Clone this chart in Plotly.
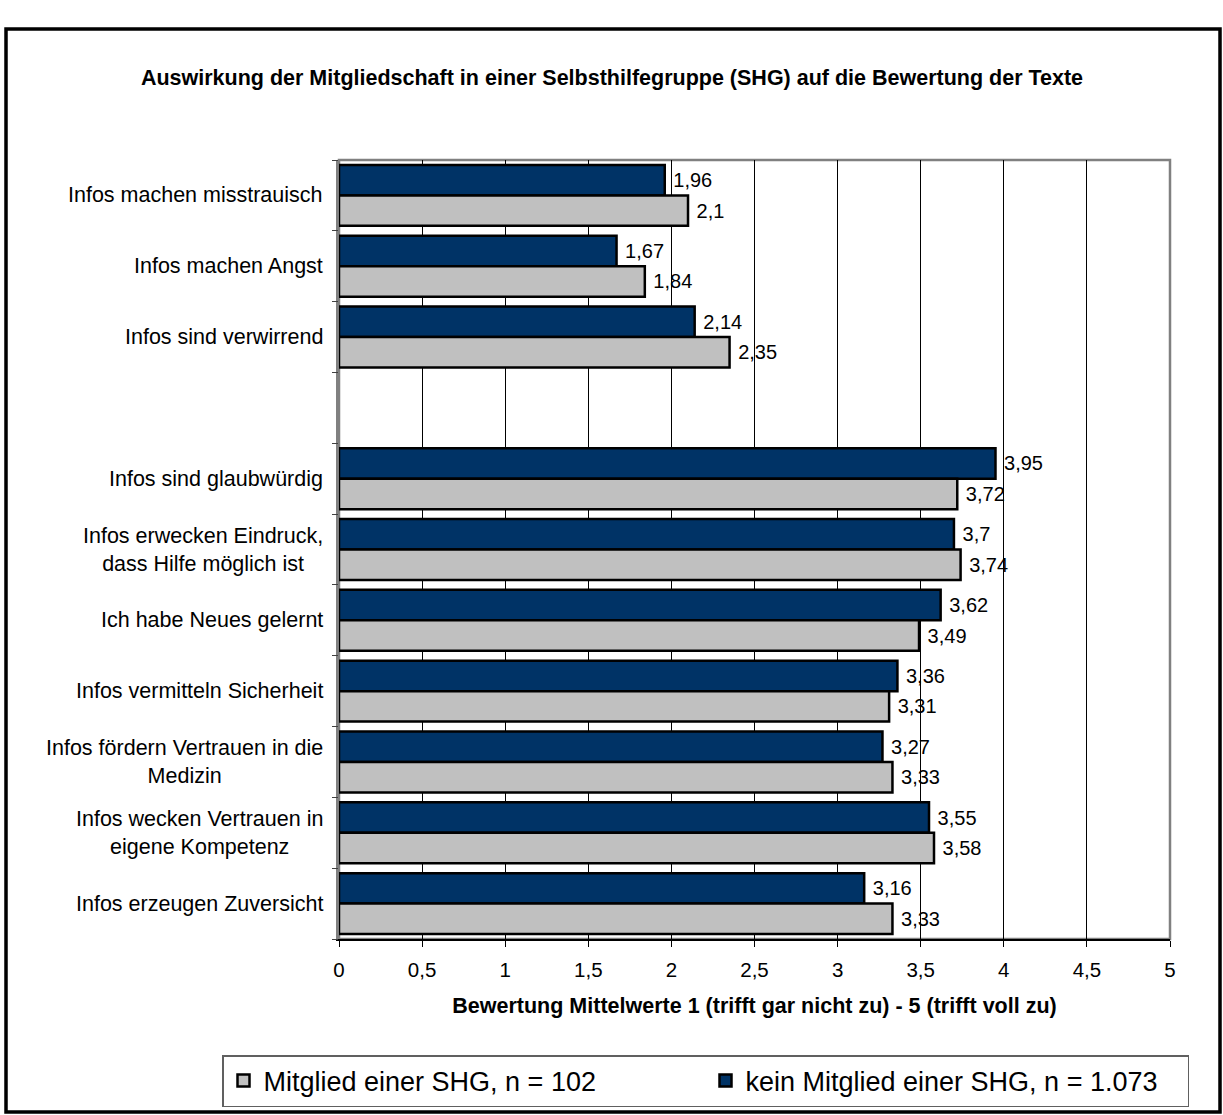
import plotly.graph_objects as go

# Kategorien (leerer Eintrag = Abstand zwischen den beiden Blöcken)
categories = [
    "Infos machen misstrauisch",
    "Infos machen Angst",
    "Infos sind verwirrend",
    "",
    "Infos sind glaubwürdig",
    "Infos erwecken Eindruck,<br>dass Hilfe möglich ist",
    "Ich habe Neues gelernt",
    "Infos vermitteln Sicherheit",
    "Infos fördern Vertrauen in die<br>Medizin",
    "Infos wecken Vertrauen in<br>eigene Kompetenz",
    "Infos erzeugen Zuversicht",
]
kein_mitglied = [1.96, 1.67, 2.14, None, 3.95, 3.70, 3.62, 3.36, 3.27, 3.55, 3.16]
mitglied = [2.10, 1.84, 2.35, None, 3.72, 3.74, 3.49, 3.31, 3.33, 3.58, 3.33]
x_ticks = [0, 0.5, 1, 1.5, 2, 2.5, 3, 3.5, 4, 4.5, 5]

name_mitglied = "Mitglied einer SHG, n = 102"
name_kein = "kein Mitglied einer SHG, n = 1.073"
title_text = "Auswirkung der Mitgliedschaft in einer Selbsthilfegruppe (SHG) auf die Bewertung der Texte"
x_title = "Bewertung Mittelwerte 1 (trifft gar nicht zu) - 5 (trifft voll zu)"

FONT = "Liberation Sans, Arial, sans-serif"
W, H = 1223, 1115
L, R, T, B = 339, 1170, 160, 939  # plot area in pixels


def fmt(v):
    # value label with decimal comma, small gap to the bar end
    return "" if v is None else "\u00a0" + f"{v:g}".replace(".", ",")


pos = list(range(len(categories)))

fig = go.Figure()
fig.add_trace(go.Bar(
    y=pos, x=kein_mitglied, orientation="h", name=name_kein,
    marker=dict(color="#003366", line=dict(color="black", width=2.5)),
    text=[fmt(v) for v in kein_mitglied], textposition="outside",
    textfont=dict(family=FONT, size=20, color="black"),
    cliponaxis=False,
))
fig.add_trace(go.Bar(
    y=pos, x=mitglied, orientation="h", name=name_mitglied,
    marker=dict(color="#C0C0C0", line=dict(color="black", width=2.5)),
    text=[fmt(v) for v in mitglied], textposition="outside",
    textfont=dict(family=FONT, size=20, color="black"),
    cliponaxis=False,
))

yrange = [len(categories) - 0.5, -0.5]

# category labels, centred line by line
for p, c in zip(pos, categories):
    if c:
        fig.add_annotation(
            x=0, xref="paper", y=p, yref="y", text=c, showarrow=False,
            xanchor="right", yanchor="middle", xshift=-14, align="center",
            font=dict(family=FONT, size=21.5, color="black"),
        )


def px_x(px):
    return (px - L) / (R - L)


def px_y(py):
    return (B - py) / (B - T)


# plot frame (top/right in grey)
fig.add_shape(type="rect", xref="x domain", yref="y domain", x0=0, x1=1, y0=0, y1=1,
              line=dict(color="#808080", width=2.5), layer="below")
# outer chart border
fig.add_shape(type="rect", xref="paper", yref="paper",
              x0=px_x(6), x1=px_x(1220), y0=px_y(1112), y1=px_y(29),
              line=dict(color="black", width=3.5))

fig.update_layout(
    width=W, height=H,
    margin=dict(l=L, r=W - R, t=T, b=H - B, autoexpand=False),
    paper_bgcolor="white", plot_bgcolor="white",
    separators=",.",
    barmode="group", bargap=0.14, bargroupgap=0,
    font=dict(family=FONT, color="black"),
    title=dict(text=f"<b>{title_text}</b>", x=612 / W, xanchor="center",
               y=1 - 77 / H, yanchor="middle", xref="container", yref="container",
               font=dict(family=FONT, size=21.5, color="black")),
    xaxis=dict(
        range=[0, 5], tickvals=x_ticks, showgrid=True, gridcolor="black", gridwidth=1,
        zeroline=False, showline=True, linecolor="black", linewidth=2,
        ticks="outside", ticklen=6, tickcolor="black", tickwidth=1,
        ticklabelstandoff=5,
        tickfont=dict(family=FONT, size=20.5, color="black"),
        title=dict(text=f"<b>{x_title}</b>", standoff=18,
                   font=dict(family=FONT, size=21.5, color="black")),
    ),
    yaxis=dict(
        range=yrange, showticklabels=False, ticks="", showgrid=False, zeroline=False,
        showline=True, linecolor="#808080", linewidth=2.5,
    ),
    yaxis2=dict(
        overlaying="y", anchor="x", side="left", range=yrange,
        tickvals=[p - 0.5 for p in pos] + [pos[-1] + 0.5],
        ticks="outside", ticklen=6, tickcolor="#404040", tickwidth=1,
        showticklabels=False, showgrid=False, zeroline=False, showline=False,
    ),
    showlegend=True,
    legend=dict(
        orientation="h", traceorder="reversed",
        x=px_x(222), xanchor="left", y=px_y(1055), yanchor="top",
        entrywidth=437, entrywidthmode="pixels",
        bordercolor="#606060", borderwidth=1.5, bgcolor="white",
        font=dict(family=FONT, size=27, color="black"),
    ),
)

# invisible trace to activate the boundary ticks on yaxis2
fig.add_trace(go.Scatter(x=[None], y=[None], yaxis="y2", showlegend=False, hoverinfo="skip"))

fig.write_html("out.html")
